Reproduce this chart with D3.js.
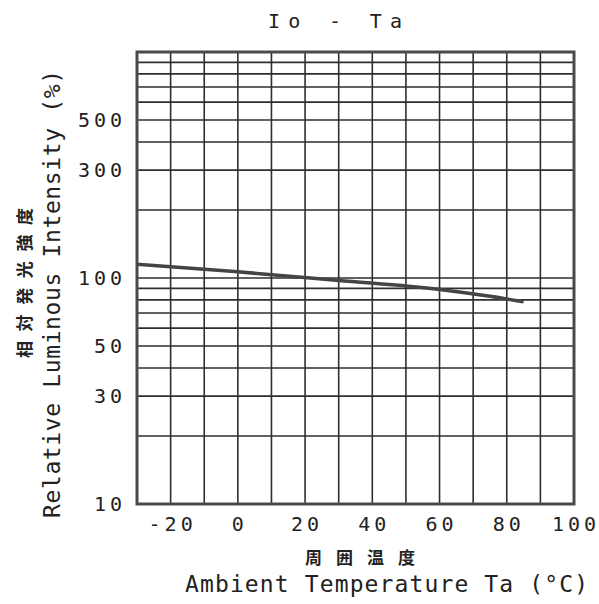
<!DOCTYPE html>
<meta charset="utf-8">
<head>
    <meta charset="utf-8">
    <title>Io - Ta</title>
    <!-- Load d3.js -->
    <script src="https://d3js.org/d3.v7.min.js"></script>
    <style>
        body {
            margin: 0;
            background: #fff;
        }
        text {
            fill: #222;
        }
        .mono {
            font-family: 'DejaVu Sans Mono', monospace;
        }
        .jp {
            font-family: 'Noto Sans CJK JP', sans-serif;
        }
    </style>
</head>
<body>
<div id="my_dataviz"></div>
<script>
    // Data
    var temps = [-30, 0, 30, 60, 75, 85];
    var intensity = [115, 106.5, 97.5, 89, 83, 78.5];

    var xTicks = [-20, 0, 20, 40, 60, 80, 100];
    var yTicks = [10, 30, 50, 100, 300, 500];
    var xGrid = [-20, -10, 0, 10, 20, 30, 40, 50, 60, 70, 80, 90];
    var yGrid = [20, 30, 40, 50, 60, 70, 80, 90, 100, 200, 300, 400, 500, 600, 700, 800, 900];

    var W = 599, H = 604;

    var svg = d3.select("#my_dataviz")
        .append("svg")
        .attr("width", W)
        .attr("height", H);

    // Scales
    var x = d3.scaleLinear().domain([-30, 100]).range([137, 574]);
    var y = d3.scaleLog().domain([10, 1000]).range([504, 52]);

    // Grid
    svg.append("g")
        .selectAll("line")
        .data(xGrid)
        .enter().append("line")
        .attr("x1", d => x(d)).attr("x2", d => x(d))
        .attr("y1", y(1000)).attr("y2", y(10))
        .attr("stroke", "#2e2e2e")
        .attr("stroke-width", 1.6);

    svg.append("g")
        .selectAll("line")
        .data(yGrid)
        .enter().append("line")
        .attr("x1", x(-30)).attr("x2", x(100))
        .attr("y1", d => y(d)).attr("y2", d => y(d))
        .attr("stroke", "#2e2e2e")
        .attr("stroke-width", 1.6);

    // Frame
    svg.append("rect")
        .attr("x", x(-30))
        .attr("y", y(1000))
        .attr("width", x(100) - x(-30))
        .attr("height", y(10) - y(1000))
        .attr("fill", "none")
        .attr("stroke", "#4a4a4a")
        .attr("stroke-width", 3);

    // Curve
    var line = d3.line()
        .x(function(d, i) { return x(temps[i]); })
        .y(function(d) { return y(d); })
        .curve(d3.curveMonotoneX);

    svg.append("path")
        .datum(intensity)
        .attr("d", line)
        .attr("fill", "none")
        .attr("stroke", "#444")
        .attr("stroke-width", 3.5);

    // Tick labels
    svg.append("g")
        .selectAll("text")
        .data(xTicks)
        .enter().append("text")
        .attr("class", "mono")
        .attr("x", d => x(d) + 2)
        .attr("y", 531)
        .attr("text-anchor", "middle")
        .style("font-size", "20px")
        .style("letter-spacing", "4px")
        .text(d => d);

    svg.append("g")
        .selectAll("text")
        .data(yTicks)
        .enter().append("text")
        .attr("class", "mono")
        .attr("x", 126)
        .attr("y", d => y(d) + 7)
        .attr("text-anchor", "end")
        .style("font-size", "20px")
        .style("letter-spacing", "4px")
        .text(d => d);

    // Title
    svg.append("text")
        .attr("class", "mono")
        .attr("x", 268)
        .attr("y", 28)
        .attr("textLength", 134)
        .attr("lengthAdjust", "spacing")
        .style("font-size", "20px")
        .text("Io  -  Ta");

    // X axis titles
    svg.append("text")
        .attr("class", "jp")
        .attr("x", 305)
        .attr("y", 564)
        .attr("textLength", 110)
        .attr("lengthAdjust", "spacing")
        .style("font-size", "17px")
        .style("font-weight", "bold")
        .text("周囲温度");

    svg.append("text")
        .attr("class", "mono")
        .attr("x", 185)
        .attr("y", 592)
        .attr("textLength", 403)
        .attr("lengthAdjust", "spacing")
        .style("font-size", "23px")
        .text("Ambient Temperature Ta (°C)");

    // Y axis titles (rotated)
    svg.append("text")
        .attr("class", "jp")
        .attr("transform", "translate(31,358) rotate(-90)")
        .attr("textLength", 150)
        .attr("lengthAdjust", "spacing")
        .style("font-size", "17px")
        .style("font-weight", "bold")
        .text("相対発光強度");

    svg.append("text")
        .attr("class", "mono")
        .attr("transform", "translate(60,518) rotate(-90)")
        .attr("textLength", 448)
        .attr("lengthAdjust", "spacing")
        .style("font-size", "23px")
        .text("Relative Luminous Intensity (%)");
</script>
</body>
